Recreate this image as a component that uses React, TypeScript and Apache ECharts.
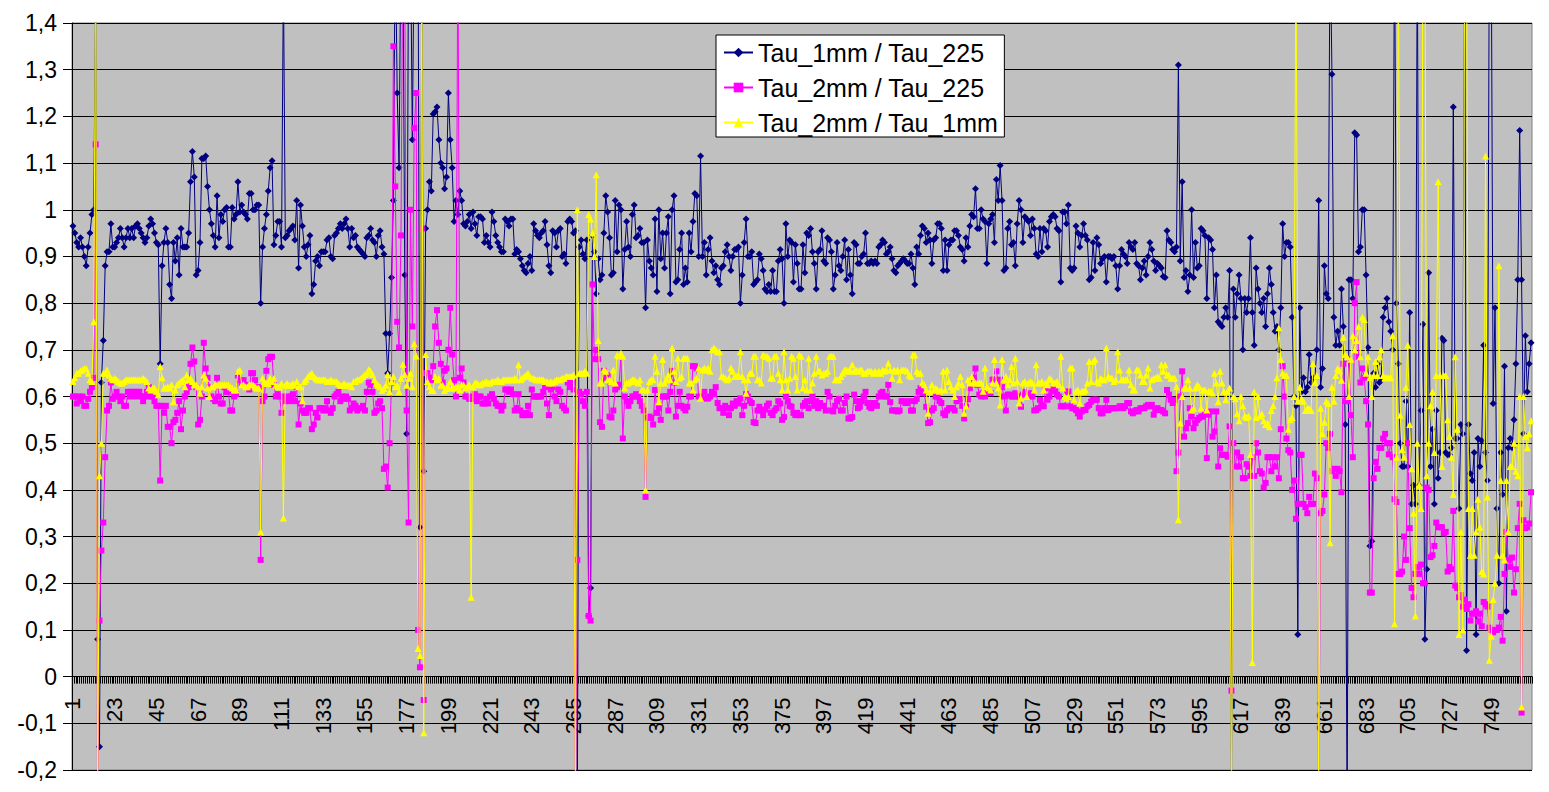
import React, { useEffect, useRef } from "react";
import * as echarts from "echarts";

const FONT = "'Liberation Sans', Arial, Helvetica, sans-serif";

const seriesNames = ["Tau_1mm / Tau_225", "Tau_2mm / Tau_225", "Tau_2mm / Tau_1mm"];

// Tau_1mm / Tau_225
const tau1mmOver225 = [
.965,.95,.93,.92,.94,.92,.90,.88,.92,.95,
.99,1.0,1.5,.08,-.15,.63,.72,.88,.91,.91,
.97,.92,.92,.93,.94,.96,.94,.92,.94,.96,
.94,.96,.94,.965,.97,.96,.95,.94,.93,.94,
.965,.98,.97,.95,.93,.925,.67,.88,.93,.96,
.93,.84,.81,.93,.89,.94,.86,.96,.92,.92,
.92,.95,1.06,1.125,1.07,.86,.87,.93,1.11,1.11,
1.115,1.05,1.0,.97,.945,.92,1.03,.94,.99,.975,
1.0,1.005,.92,.92,1.005,.98,.99,1.06,.995,1.01,
.995,.99,.98,1.035,1.035,1.0,1.0,1.01,1.01,.80,
.92,.96,.99,1.04,1.09,1.105,.925,.945,.975,.975,
.92,1.5,.94,.945,.955,.96,.965,.935,1.02,.875,
1.01,.965,.92,.90,.925,.945,.82,.84,.89,.90,
.88,.91,.91,.91,.935,.94,.90,.895,.945,.95,
.96,.97,.96,.97,.98,.96,.92,.96,.94,.945,
.92,.915,.91,.905,.90,.94,.945,.96,.935,.93,
.90,.945,.955,.92,.905,.735,.65,.735,.855,1.02,
1.6,1.25,1.09,1.6,1.6,.86,.52,1.6,1.6,1.15,
1.6,1.6,1.6,.32,1.5,.44,.96,1.0,1.06,1.04,
1.205,1.21,1.22,1.15,1.1,1.09,1.045,1.07,1.25,1.15,
1.09,.975,1.02,.99,1.04,1.02,.97,.965,.975,.99,
.96,.995,.97,.945,.985,.985,.98,.93,.945,.93,
.92,.995,.975,.945,.93,.92,.91,.91,.98,.975,
.965,.98,.98,.905,.915,.91,.895,.88,.87,.865,
.885,.90,.87,.97,.955,.945,.94,.95,.955,.975,
.925,.88,.865,.955,.95,.92,.955,.96,.90,.905,
.885,.975,.98,.975,.95,.955,-.3,.92,.935,.905,
.895,.935,.13,.19,.945,.91,.82,.895,.85,.86,
.95,1.03,.995,.94,.86,.865,1.02,.91,1.01,1.0,
.83,.915,.975,.92,.90,.99,1.01,.94,.945,.96,
.93,.93,.79,.935,.89,.875,.86,.98,.825,1.0,
.895,.95,.875,.95,.985,.82,1.0,1.03,.845,.85,
.915,.95,.84,.875,.845,.95,.91,.975,1.035,1.03,
.90,1.115,.90,.93,.86,.915,.94,.89,.865,.88,
.85,.84,.875,.88,.91,.925,.90,.87,.90,.915,
.915,.92,.80,.86,.93,.98,.90,.90,.91,.84,
.845,.85,.905,.895,.87,.83,.825,.84,.825,.87,
.825,.825,.89,.915,.895,.80,.97,.90,.935,.93,
.845,.925,.885,.83,.83,.925,.865,.95,.945,.96,
.91,.885,.83,.91,.915,.955,.89,.885,.94,.935,
.91,.83,.86,.93,.88,.87,.90,.935,.85,.915,
.86,.82,.93,.925,.885,.885,.90,.905,.95,.885,
.885,.89,.885,.89,.885,.92,.925,.935,.93,.905,
.91,.92,.895,.87,.865,.88,.885,.89,.895,.89,
.885,.885,.905,.875,.84,.92,.905,.945,.965,.96,
.93,.95,.935,.885,.935,.94,.97,.97,.96,.87,
.935,.87,.925,.935,.935,.955,.955,.945,.92,.915,
.89,.94,.92,.965,.99,.985,1.045,.96,.96,1.0,
.98,.975,.885,.97,.98,.99,.93,1.065,1.02,1.095,
1.02,.87,.875,.96,.975,.925,.93,.88,.97,1.02,
1.0,.93,.985,.98,.975,.945,.98,.96,.905,.90,
.96,.91,.96,.955,.92,.975,.985,.99,.985,.96,
.955,.845,.995,.995,.97,1.01,.875,.87,.875,.965,
.95,.92,.945,.97,.945,.935,.85,.855,.93,.87,
.94,.925,.885,.895,.90,.845,.90,.90,.895,.90,
.88,.83,.88,.915,.905,.90,.885,.93,.92,.915,
.93,.885,.88,.85,.875,.89,.86,.90,.93,.915,
.89,.87,.885,.88,.875,.857,.855,.955,.935,.93,
.915,.91,.92,1.31,.89,1.06,.855,.87,.825,.86,
1.0,.855,.93,.875,.88,.96,.955,.945,.81,.94,
.935,.915,.79,.86,.76,.755,.75,.77,.79,.77,
.87,-.3,.83,.77,.82,.86,.81,.70,.81,.78,
.81,.94,.78,.71,.875,.83,.80,.78,.81,.75,
.82,.875,.84,.78,.74,.75,.70,.79,.97,.90,
.93,.93,.92,.77,.60,.58,.09,.79,.61,.64,
.61,.62,.69,.63,.64,.64,.70,1.02,.62,.66,
.88,.82,.81,1.6,1.29,.77,.71,.74,.71,.83,
.75,.54,-.3,.85,.85,.81,1.165,1.16,.91,.92,
1.0,1.0,.86,.705,.28,.29,.65,.62,.67,.63,
.64,.77,.79,.81,.76,.74,.70,1.6,.80,.67,
.50,.45,.45,.59,.45,.78,.37,.41,.37,1.6,
.41,.57,.755,.08,.23,.865,.45,.53,.37,.57,
.425,.48,.725,.72,.48,.475,.475,.49,1.22,.51,
.51,.36,.54,.52,1.6,.056,.54,.435,.42,.48,
.09,.51,.45,.505,.71,.48,.42,1.6,1.6,.585,
.79,.36,.2,.48,.39,.665,.14,.49,.51,.49,
.55,.67,.85,1.17,.85,.52,.73,.61,.67,.715
];

// Tau_2mm / Tau_225
const tau2mmOver225 = [
.6,.6,.585,.6,.59,.6,.58,.58,.595,.61,
.62,.64,1.14,-.3,.12,.27,.33,.47,.57,.58,
.63,.595,.6,.61,.6,.59,.6,.58,.58,.61,
.6,.61,.61,.6,.61,.61,.6,.59,.6,.61,
.62,.6,.6,.59,.58,.58,.42,.58,.565,.58,
.535,.535,.5,.545,.55,.565,.59,.53,.57,.6,
.61,.62,.67,.705,.675,.62,.54,.55,.6,.715,
.66,.64,.62,.6,.595,.59,.64,.6,.585,.585,
.62,.61,.61,.57,.57,.6,.605,.645,.635,.625,
.635,.625,.62,.615,.65,.65,.635,.62,.62,.25,
.59,.6,.655,.68,.685,.685,.625,.6,.605,.6,
.565,.6,.59,.6,.59,.6,.605,.59,.62,.54,
.585,.57,.565,.565,.575,.575,.53,.54,.565,.555,
.575,.575,.57,.575,.59,.57,.565,.575,.6,.605,
.61,.59,.6,.595,.6,.595,.57,.575,.585,.58,
.57,.575,.575,.58,.57,.61,.63,.625,.61,.565,
.57,.585,.59,.575,.445,.45,.405,.5,.63,1.35,
1.05,.76,.705,.945,1.6,1.5,.57,.33,1.0,.75,
1.175,1.25,.1,.02,.96,-.05,.65,.65,.64,.635,
.665,.75,.785,.715,.67,.63,.655,.66,.7,.79,
.69,.635,.6,1.6,.64,.66,.63,.6,.6,.595,
.595,.6,.605,.59,.6,.6,.585,.585,.595,.585,
.6,.605,.595,.585,.58,.58,.57,.58,.615,.615,
.61,.615,.605,.57,.575,.605,.57,.56,.56,.565,
.58,.56,.615,.6,.6,.6,.6,.6,.61,.62,
.585,.56,.615,.62,.6,.59,.615,.61,.58,.575,
.57,.63,.62,.63,.615,-.3,.25,.61,.605,.59,
.58,.61,.13,.12,.84,.68,.7,.68,.545,.535,
.655,.64,.645,.557,.555,.57,.615,.62,.625,.685,
.51,.6,.59,.58,.59,.6,.6,.605,.6,.59,
.58,.57,.385,.555,.557,.554,.54,.614,.565,.575,
.55,.6,.6,.6,.57,.61,.655,.63,.557,.58,
.61,.58,.575,.57,.578,.6,.6,.665,.665,.66,
.6,.6,.596,.61,.596,.596,.6,.61,.605,.62,
.586,.575,.575,.565,.58,.575,.56,.575,.585,.58,
.59,.585,.596,.56,.58,.605,.6,.59,.586,.545,
.543,.57,.578,.57,.56,.572,.58,.585,.565,.56,
.57,.575,.59,.585,.55,.556,.6,.59,.58,.578,
.565,.56,.565,.56,.56,.58,.586,.59,.575,.59,
.6,.58,.59,.575,.586,.58,.58,.57,.61,.6,
.57,.568,.58,.59,.595,.57,.57,.586,.6,.553,
.553,.556,.604,.59,.575,.578,.59,.6,.61,.586,
.578,.575,.586,.586,.58,.6,.607,.61,.6,.6,
.625,.588,.57,.57,.57,.568,.57,.59,.59,.586,
.586,.59,.57,.57,.59,.595,.61,.618,.607,.607,
.578,.543,.545,.57,.575,.6,.6,.59,.586,.564,
.56,.57,.575,.575,.575,.57,.59,.594,.594,.58,
.553,.578,.594,.618,.63,.64,.66,.625,.604,.6,
.607,.6,.61,.618,.607,.636,.636,.654,.629,.636,
.62,.6,.57,.604,.604,.6,.6,.607,.6,.6,
.578,.604,.61,.604,.6,.607,.6,.57,.571,.575,
.593,.582,.579,.618,.593,.6,.611,.618,.614,.604,
.6,.579,.579,.579,.607,.611,.579,.575,.575,.571,
.564,.557,.568,.571,.571,.579,.582,.589,.593,.593,
.593,.575,.564,.564,.575,.593,.571,.575,.575,.575,
.575,.575,.579,.579,.575,.579,.586,.586,.568,.564,
.568,.571,.568,.575,.575,.575,.579,.582,.579,.582,
.561,.571,.575,.571,.571,.568,.564,.614,.604,.593,
.586,.593,.44,.48,.6,.654,.514,.532,.543,.575,
.557,.532,.543,.55,.554,.557,.557,.564,.468,.561,
.568,.514,.525,.568,.45,.489,.475,.475,.475,.471,
.536,-.03,.5,.45,.48,.45,.47,.425,.425,.455,
.45,.43,.47,.43,.5,.48,.44,.435,.405,.415,
.47,.47,.44,.47,.45,.47,.425,.53,.665,.6,
.51,.485,.48,.4,.42,.338,.37,.475,.475,.37,
.363,.35,.385,.37,.37,.435,.425,-.3,.35,.355,
.39,.5,.49,.52,.44,.445,.43,.445,.44,.395,
.67,.59,.59,.68,.56,.47,.8,.845,.685,.63,
.66,.64,.59,.54,.18,.18,.425,.46,.445,.49,
.49,.51,.52,.5,.476,.5,.47,.38,.374,.22,
.22,.225,.3,.25,.5,.318,.19,.17,.22,.235,
.22,.24,.2,.2,.405,.4,.256,.26,.28,.33,
.32,.32,.32,.307,.31,.225,.235,.23,.355,.195,
.19,.17,.175,.15,.165,.145,.155,.12,.135,.135,
.14,.118,.135,.108,.16,.155,.15,.105,.1,.095,
.1,.1,.105,.128,.077,.22,.31,.25,.235,.255,
.18,.23,.318,.37,-.077,.335,.318,.32,.328,.395
];

// Tau_2mm / Tau_1mm
const tau2mmOver1mm = [
.632,.64,.65,.65,.655,.657,.66,.66,.65,.636,
.632,.76,1.6,-.3,.43,.5,.65,.65,.657,.646,
.639,.636,.639,.636,.632,.629,.629,.632,.636,.636,
.636,.636,.636,.636,.636,.636,.636,.639,.636,.632,
.618,.614,.618,.618,.611,.604,.664,.64,.618,.618,
.621,.618,.625,.589,.614,.625,.629,.632,.636,.621,
.646,.636,.639,.632,.625,.625,.621,.607,.621,.646,
.639,.618,.6,.621,.621,.625,.625,.625,.625,.625,
.625,.625,.625,.621,.618,.614,.614,.654,.657,.625,
.625,.621,.621,.625,.625,.625,.621,.618,.618,.31,
.639,.632,.628,.628,.639,.632,.639,.624,.621,.621,
.628,.34,.624,.628,.624,.624,.628,.624,.632,.621,
.621,.591,.632,.636,.643,.647,.65,.643,.639,.636,
.636,.636,.636,.636,.632,.632,.636,.632,.632,.632,
.628,.624,.624,.628,.624,.624,.624,.621,.632,.632,
.636,.636,.639,.643,.647,.65,.658,.654,.647,.636,
.628,.624,.621,.613,.617,.624,.647,.61,.632,.643,
.621,.624,.61,.639,.669,.647,.624,.639,.65,.621,
.713,.687,.06,.045,1.6,-.12,.69,.632,.621,.613,
.613,.643,.636,.639,.624,.624,.613,.617,.621,.632,
.618,.618,.621,.621,.614,.625,.625,.618,.621,.625,
.17,.621,.629,.629,.625,.625,.629,.629,.632,.629,
.629,.632,.632,.632,.636,.632,.632,.636,.636,.636,
.636,.636,.636,.639,.636,.668,.636,.639,.643,.646,
.65,.643,.639,.639,.636,.636,.636,.636,.636,.632,
.632,.629,.632,.629,.632,.636,.636,.636,.639,.639,
.643,.643,.643,.643,.646,-.3,1.0,.65,.65,.65,
.654,.65,.99,.98,.95,.9,1.075,.72,.629,.629,
.657,.654,.636,.636,.632,.657,.629,.689,.686,.693,
.686,.618,.629,.629,.632,.636,.636,.632,.629,.636,
.614,.614,.4,.614,.632,.636,.636,.686,.654,.589,
.629,.679,.629,.636,.646,.636,.704,.654,.632,.682,
.639,.643,.682,.682,.682,.629,.629,.614,.636,.639,
.661,.596,.657,.661,.657,.661,.654,.7,.704,.7,
.696,.696,.643,.643,.639,.636,.639,.661,.654,.643,
.643,.646,.696,.643,.636,.607,.636,.65,.65,.686,
.686,.636,.636,.629,.689,.686,.686,.682,.639,.639,
.686,.686,.65,.636,.614,.696,.636,.614,.639,.686,
.682,.643,.614,.689,.686,.618,.636,.614,.682,.614,
.629,.65,.686,.654,.654,.646,.65,.65,.654,.686,
.686,.686,.636,.636,.636,.643,.65,.657,.657,.654,
.657,.668,.654,.657,.654,.657,.657,.65,.65,.654,
.654,.654,.65,.654,.65,.654,.65,.657,.654,.657,
.671,.657,.639,.657,.654,.657,.636,.657,.657,.657,
.654,.646,.643,.689,.689,.654,.65,.65,.629,.625,
.614,.564,.611,.625,.614,.618,.614,.611,.614,.654,
.614,.657,.632,.621,.614,.6,.621,.629,.643,.625,
.564,.579,.636,.629,.643,.632,.629,.629,.629,.629,
.611,.661,.621,.618,.614,.629,.679,.629,.618,.582,
.679,.636,.643,.625,.636,.664,.629,.682,.632,.586,
.596,.629,.632,.6,.629,.632,.629,.614,.668,.629,
.629,.632,.614,.629,.625,.639,.636,.629,.629,.632,
.625,.686,.618,.6,.596,.6,.661,.661,.593,.611,
.614,.586,.611,.611,.614,.629,.675,.632,.675,.679,
.632,.629,.639,.636,.636,.704,.643,.639,.639,.632,
.636,.696,.657,.636,.636,.636,.636,.657,.625,.614,
.614,.657,.657,.646,.632,.632,.646,.661,.618,.636,
.639,.639,.643,.639,.668,.654,.668,.646,.646,.639,
.639,.639,.621,.336,.543,.6,.618,.618,.636,.618,
.571,.575,.618,.625,.621,.575,.614,.614,.571,.611,
.611,.607,.65,.629,.589,.654,.629,.611,.593,.611,
.618,-.3,.6,.595,.563,.548,.6,.58,.558,.555,
.558,.476,.03,.61,.555,.6,.558,.563,.548,.54,
.543,.535,.57,.58,.6,.64,.747,.68,.65,.645,
.645,.53,.55,.555,.6,1.6,.59,.62,.595,.59,
.57,.575,.575,.57,.67,.63,.645,-.3,.575,.52,
.545,.59,.585,.287,.62,.59,.645,.66,.655,.635,
.727,.69,.685,.6,.68,.73,.7,.72,.75,.685,
.77,.765,.65,.685,.64,.6,.645,.675,.645,.685,
.7,.645,.64,.64,.64,.64,.73,.113,.47,1.6,
.56,.486,.47,.62,.71,.54,.445,.35,.13,.5,
.41,.36,1.6,1.6,.43,.5,.58,.61,.48,.645,
1.06,.645,.45,.645,.645,.55,.515,.47,.39,.685,
.53,.09,.31,.1,1.6,1.6,.36,.26,.36,.26,
.31,.38,.32,.225,.22,1.115,.385,.035,.087,.165,
.2,.26,.88,.42,.26,.25,.42,.31,.45,.45,
.5,.44,.43,.6,-.065,.6,.515,.49,.52,.548
];

// category labels 1..N (sample index)
const categories = tau1mmOver225.map((_, i) => String(i + 1));

const yTickMin = -0.2;
const yTickMax = 1.4;
const yTickStep = 0.1;
const xLabelEvery = 22;

const colors = ["#000080", "#FF00FF", "#FFFF00"];
const symbols = ["diamond", "rect", "triangle"];
const symbolSizes = [7, 6, 7];

// layout
const GRID_TOP = 23;
const GRID_BOTTOM_PX = 770;
const CHART_H = 792;

export default function App() {
  const ref = useRef<HTMLDivElement>(null);

  useEffect(() => {
    if (!ref.current) return;
    const chart = echarts.init(ref.current, undefined, { renderer: "svg" });
    const datasets = [tau1mmOver225, tau2mmOver225, tau2mmOver1mm];
    const plotH = GRID_BOTTOM_PX - GRID_TOP;
    const zeroOffset = -((0 - yTickMin) / (yTickMax - yTickMin)) * plotH;
    chart.setOption({
      animation: false,
      backgroundColor: "#ffffff",
      textStyle: { fontFamily: FONT },
      grid: {
        left: 72,
        right: 17,
        top: GRID_TOP,
        bottom: CHART_H - GRID_BOTTOM_PX,
        show: true,
        backgroundColor: "#C0C0C0",
        borderColor: "#808080",
        borderWidth: 1,
        containLabel: false,
        outerBoundsMode: "none",
      },
      legend: {
        orient: "vertical",
        left: 716,
        top: 35,
        backgroundColor: "#ffffff",
        borderColor: "#000000",
        borderWidth: 1,
        borderRadius: 0,
        padding: [3, 6, 0, 7],
        itemGap: 6,
        itemWidth: 29,
        itemHeight: 12,
        textStyle: { fontSize: 25, color: "#000", fontFamily: FONT, lineHeight: 29 },
        data: seriesNames,
      },
      xAxis: {
        type: "category",
        data: categories,
        boundaryGap: true,
        position: "bottom",
        offset: zeroOffset,
        axisLine: { onZero: false, lineStyle: { color: "#000", width: 1 } },
        axisTick: { show: true, interval: 0, length: 7, lineStyle: { color: "#000", width: 1 } },
        axisLabel: {
          interval: xLabelEvery - 1,
          rotate: 90,
          fontSize: 22,
          color: "#000",
          margin: 21,
          fontFamily: FONT,
          hideOverlap: false,
        },
        splitLine: { show: false },
      },
      yAxis: {
        type: "value",
        min: yTickMin,
        max: yTickMax,
        interval: yTickStep,
        axisLine: { show: true, lineStyle: { color: "#000", width: 1 } },
        axisTick: { show: true, length: 9, lineStyle: { color: "#000" } },
        axisLabel: {
          fontSize: 23,
          color: "#000",
          margin: 15,
          fontFamily: FONT,
          formatter: (v: number) => String(Math.round(v * 10) / 10).replace(".", ","),
        },
        splitLine: { show: true, lineStyle: { color: "#000", width: 1 } },
      },
      series: datasets.map((d, i) => ({
        name: seriesNames[i],
        type: "line",
        data: d,
        symbol: symbols[i],
        symbolSize: symbolSizes[i],
        showSymbol: true,
        showAllSymbol: true,
        clip: true,
        lineStyle: { color: colors[i], width: 1 },
        itemStyle: { color: colors[i], borderWidth: 0 },
        emphasis: { disabled: true },
        z: 2 + i,
      })),
    });
    return () => chart.dispose();
  }, []);

  return (
    <div
      ref={ref}
      style={{ position: "absolute", left: 0, top: 0, width: 1549, height: CHART_H }}
    />
  );
}
